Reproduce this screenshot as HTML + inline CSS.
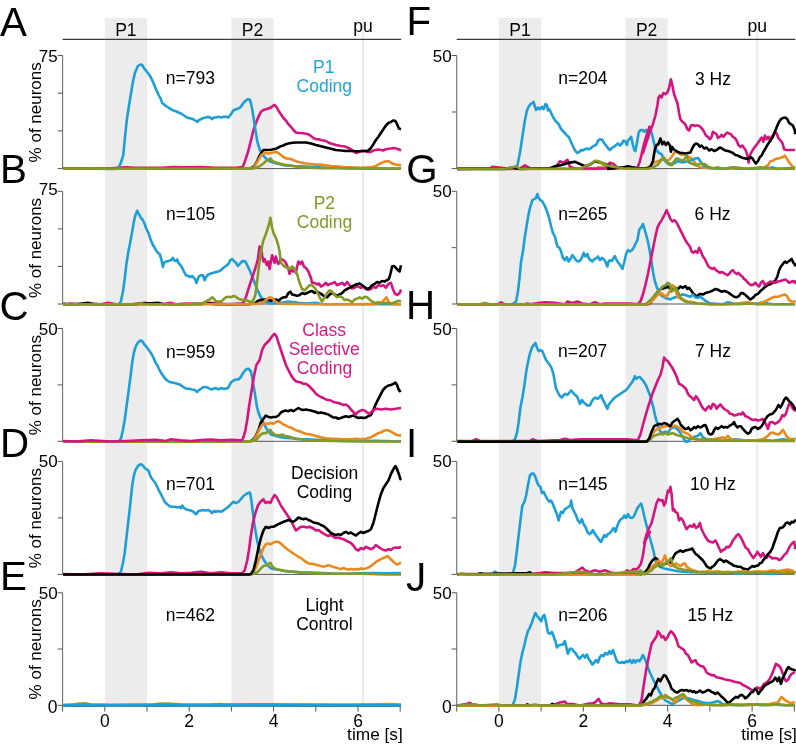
<!DOCTYPE html><html><head><meta charset="utf-8"><style>html,body{margin:0;padding:0;background:#fff;}svg{display:block;will-change:transform}text{font-family:"Liberation Sans",sans-serif;}</style></head><body>
<svg width="796" height="744" viewBox="0 0 796 744">
<rect x="104.8" y="18.2" width="42.2" height="687.1" fill="#ececec"/>
<rect x="231.4" y="18.2" width="42.2" height="687.1" fill="#ececec"/>
<line x1="363.1" y1="18.2" x2="363.1" y2="705.3" stroke="#ececec" stroke-width="2.2"/>
<line x1="62.6" y1="39.3" x2="401.2" y2="39.3" stroke="#3a3a3a" stroke-width="1.3"/>
<text x="125.9" y="35.8" font-size="17.5" text-anchor="middle">P1</text>
<text x="252.5" y="35.8" font-size="17.5" text-anchor="middle">P2</text>
<text x="363.1" y="32.2" font-size="17.5" text-anchor="middle">pu</text>
<rect x="498.9" y="18.2" width="42.2" height="687.1" fill="#ececec"/>
<rect x="625.5" y="18.2" width="42.2" height="687.1" fill="#ececec"/>
<line x1="757.2" y1="18.2" x2="757.2" y2="705.3" stroke="#ececec" stroke-width="2.2"/>
<line x1="456.7" y1="39.3" x2="795.3" y2="39.3" stroke="#3a3a3a" stroke-width="1.3"/>
<text x="520.0" y="35.8" font-size="17.5" text-anchor="middle">P1</text>
<text x="646.6" y="35.8" font-size="17.5" text-anchor="middle">P2</text>
<text x="757.2" y="32.2" font-size="17.5" text-anchor="middle">pu</text>
<line x1="62.6" y1="55.5" x2="62.6" y2="168.6" stroke="#707070" stroke-width="1.1"/>
<line x1="57.6" y1="168.6" x2="62.6" y2="168.6" stroke="#555" stroke-width="1"/>
<line x1="57.6" y1="130.9" x2="62.6" y2="130.9" stroke="#555" stroke-width="1"/>
<line x1="57.6" y1="93.2" x2="62.6" y2="93.2" stroke="#555" stroke-width="1"/>
<line x1="57.6" y1="55.5" x2="62.6" y2="55.5" stroke="#555" stroke-width="1"/>
<text x="57.6" y="61.5" font-size="17" text-anchor="end">75</text>
<line x1="62.6" y1="168.6" x2="400.2" y2="168.6" stroke="#555" stroke-width="1"/>
<text transform="translate(41.3,112.3) rotate(-90)" font-size="17" text-anchor="middle">% of neurons</text>
<line x1="62.6" y1="191.3" x2="62.6" y2="304.0" stroke="#707070" stroke-width="1.1"/>
<line x1="57.6" y1="304.0" x2="62.6" y2="304.0" stroke="#555" stroke-width="1"/>
<line x1="57.6" y1="266.4" x2="62.6" y2="266.4" stroke="#555" stroke-width="1"/>
<line x1="57.6" y1="228.9" x2="62.6" y2="228.9" stroke="#555" stroke-width="1"/>
<line x1="57.6" y1="191.3" x2="62.6" y2="191.3" stroke="#555" stroke-width="1"/>
<text x="57.6" y="195.0" font-size="17" text-anchor="end">75</text>
<line x1="62.6" y1="304.0" x2="400.2" y2="304.0" stroke="#555" stroke-width="1"/>
<text transform="translate(41.3,248.0) rotate(-90)" font-size="17" text-anchor="middle">% of neurons</text>
<line x1="62.6" y1="328.5" x2="62.6" y2="441.3" stroke="#707070" stroke-width="1.1"/>
<line x1="57.6" y1="441.3" x2="62.6" y2="441.3" stroke="#555" stroke-width="1"/>
<line x1="57.6" y1="384.9" x2="62.6" y2="384.9" stroke="#555" stroke-width="1"/>
<line x1="57.6" y1="328.5" x2="62.6" y2="328.5" stroke="#555" stroke-width="1"/>
<text x="57.6" y="334.5" font-size="17" text-anchor="end">50</text>
<line x1="62.6" y1="441.3" x2="400.2" y2="441.3" stroke="#555" stroke-width="1"/>
<text transform="translate(41.3,385.2) rotate(-90)" font-size="17" text-anchor="middle">% of neurons</text>
<line x1="62.6" y1="461.4" x2="62.6" y2="574.4" stroke="#707070" stroke-width="1.1"/>
<line x1="57.6" y1="574.4" x2="62.6" y2="574.4" stroke="#555" stroke-width="1"/>
<line x1="57.6" y1="517.9" x2="62.6" y2="517.9" stroke="#555" stroke-width="1"/>
<line x1="57.6" y1="461.4" x2="62.6" y2="461.4" stroke="#555" stroke-width="1"/>
<text x="57.6" y="467.4" font-size="17" text-anchor="end">50</text>
<line x1="62.6" y1="574.4" x2="400.2" y2="574.4" stroke="#555" stroke-width="1"/>
<text transform="translate(41.3,518.2) rotate(-90)" font-size="17" text-anchor="middle">% of neurons</text>
<line x1="62.6" y1="592.8" x2="62.6" y2="705.3" stroke="#707070" stroke-width="1.1"/>
<line x1="57.6" y1="705.3" x2="62.6" y2="705.3" stroke="#555" stroke-width="1"/>
<line x1="57.6" y1="649.0" x2="62.6" y2="649.0" stroke="#555" stroke-width="1"/>
<line x1="57.6" y1="592.8" x2="62.6" y2="592.8" stroke="#555" stroke-width="1"/>
<text x="57.6" y="598.8" font-size="17" text-anchor="end">50</text>
<line x1="62.6" y1="705.3" x2="400.2" y2="705.3" stroke="#555" stroke-width="1"/>
<text transform="translate(41.3,649.3) rotate(-90)" font-size="17" text-anchor="middle">% of neurons</text>
<line x1="62.6" y1="705.3" x2="62.6" y2="711.5999999999999" stroke="#555" stroke-width="1"/>
<line x1="104.8" y1="705.3" x2="104.8" y2="711.5999999999999" stroke="#555" stroke-width="1"/>
<line x1="147.0" y1="705.3" x2="147.0" y2="711.5999999999999" stroke="#555" stroke-width="1"/>
<line x1="189.2" y1="705.3" x2="189.2" y2="711.5999999999999" stroke="#555" stroke-width="1"/>
<line x1="231.4" y1="705.3" x2="231.4" y2="711.5999999999999" stroke="#555" stroke-width="1"/>
<line x1="273.6" y1="705.3" x2="273.6" y2="711.5999999999999" stroke="#555" stroke-width="1"/>
<line x1="315.8" y1="705.3" x2="315.8" y2="711.5999999999999" stroke="#555" stroke-width="1"/>
<line x1="358.0" y1="705.3" x2="358.0" y2="711.5999999999999" stroke="#555" stroke-width="1"/>
<line x1="400.2" y1="705.3" x2="400.2" y2="711.5999999999999" stroke="#555" stroke-width="1"/>
<text x="104.8" y="727.4" font-size="17.5" text-anchor="middle">0</text>
<text x="189.2" y="727.4" font-size="17.5" text-anchor="middle">2</text>
<text x="273.6" y="727.4" font-size="17.5" text-anchor="middle">4</text>
<text x="358.0" y="727.4" font-size="17.5" text-anchor="middle">6</text>
<text x="57.6" y="712.7" font-size="17.5" text-anchor="end">0</text>
<text x="402.8" y="739.5" font-size="17.3" text-anchor="end">time [s]</text>
<line x1="456.7" y1="55.5" x2="456.7" y2="168.6" stroke="#707070" stroke-width="1.1"/>
<line x1="451.7" y1="168.6" x2="456.7" y2="168.6" stroke="#555" stroke-width="1"/>
<line x1="451.7" y1="112.0" x2="456.7" y2="112.0" stroke="#555" stroke-width="1"/>
<line x1="451.7" y1="55.5" x2="456.7" y2="55.5" stroke="#555" stroke-width="1"/>
<text x="451.7" y="61.5" font-size="17" text-anchor="end">50</text>
<line x1="456.7" y1="168.6" x2="794.3" y2="168.6" stroke="#555" stroke-width="1"/>
<line x1="456.7" y1="191.3" x2="456.7" y2="304.0" stroke="#707070" stroke-width="1.1"/>
<line x1="451.7" y1="304.0" x2="456.7" y2="304.0" stroke="#555" stroke-width="1"/>
<line x1="451.7" y1="247.7" x2="456.7" y2="247.7" stroke="#555" stroke-width="1"/>
<line x1="451.7" y1="191.3" x2="456.7" y2="191.3" stroke="#555" stroke-width="1"/>
<text x="451.7" y="197.3" font-size="17" text-anchor="end">50</text>
<line x1="456.7" y1="304.0" x2="794.3" y2="304.0" stroke="#555" stroke-width="1"/>
<line x1="456.7" y1="328.5" x2="456.7" y2="441.3" stroke="#707070" stroke-width="1.1"/>
<line x1="451.7" y1="441.3" x2="456.7" y2="441.3" stroke="#555" stroke-width="1"/>
<line x1="451.7" y1="384.9" x2="456.7" y2="384.9" stroke="#555" stroke-width="1"/>
<line x1="451.7" y1="328.5" x2="456.7" y2="328.5" stroke="#555" stroke-width="1"/>
<text x="451.7" y="334.5" font-size="17" text-anchor="end">50</text>
<line x1="456.7" y1="441.3" x2="794.3" y2="441.3" stroke="#555" stroke-width="1"/>
<line x1="456.7" y1="461.4" x2="456.7" y2="574.4" stroke="#707070" stroke-width="1.1"/>
<line x1="451.7" y1="574.4" x2="456.7" y2="574.4" stroke="#555" stroke-width="1"/>
<line x1="451.7" y1="517.9" x2="456.7" y2="517.9" stroke="#555" stroke-width="1"/>
<line x1="451.7" y1="461.4" x2="456.7" y2="461.4" stroke="#555" stroke-width="1"/>
<text x="451.7" y="467.4" font-size="17" text-anchor="end">50</text>
<line x1="456.7" y1="574.4" x2="794.3" y2="574.4" stroke="#555" stroke-width="1"/>
<line x1="456.7" y1="592.8" x2="456.7" y2="705.3" stroke="#707070" stroke-width="1.1"/>
<line x1="451.7" y1="705.3" x2="456.7" y2="705.3" stroke="#555" stroke-width="1"/>
<line x1="451.7" y1="649.0" x2="456.7" y2="649.0" stroke="#555" stroke-width="1"/>
<line x1="451.7" y1="592.8" x2="456.7" y2="592.8" stroke="#555" stroke-width="1"/>
<text x="451.7" y="598.8" font-size="17" text-anchor="end">50</text>
<line x1="456.7" y1="705.3" x2="794.3" y2="705.3" stroke="#555" stroke-width="1"/>
<line x1="456.7" y1="705.3" x2="456.7" y2="711.5999999999999" stroke="#555" stroke-width="1"/>
<line x1="498.9" y1="705.3" x2="498.9" y2="711.5999999999999" stroke="#555" stroke-width="1"/>
<line x1="541.1" y1="705.3" x2="541.1" y2="711.5999999999999" stroke="#555" stroke-width="1"/>
<line x1="583.3" y1="705.3" x2="583.3" y2="711.5999999999999" stroke="#555" stroke-width="1"/>
<line x1="625.5" y1="705.3" x2="625.5" y2="711.5999999999999" stroke="#555" stroke-width="1"/>
<line x1="667.7" y1="705.3" x2="667.7" y2="711.5999999999999" stroke="#555" stroke-width="1"/>
<line x1="709.9" y1="705.3" x2="709.9" y2="711.5999999999999" stroke="#555" stroke-width="1"/>
<line x1="752.1" y1="705.3" x2="752.1" y2="711.5999999999999" stroke="#555" stroke-width="1"/>
<line x1="794.3" y1="705.3" x2="794.3" y2="711.5999999999999" stroke="#555" stroke-width="1"/>
<text x="498.9" y="727.4" font-size="17.5" text-anchor="middle">0</text>
<text x="583.3" y="727.4" font-size="17.5" text-anchor="middle">2</text>
<text x="667.7" y="727.4" font-size="17.5" text-anchor="middle">4</text>
<text x="752.1" y="727.4" font-size="17.5" text-anchor="middle">6</text>
<text x="451.7" y="712.7" font-size="17.5" text-anchor="end">0</text>
<text x="796.9" y="739.5" font-size="17.3" text-anchor="end">time [s]</text>
<text x="0" y="36.0" font-size="40.3">A</text>
<text x="0" y="182.7" font-size="40.3">B</text>
<text x="-0.5" y="320.3" font-size="40.3">C</text>
<text x="0" y="456.5" font-size="40.3">D</text>
<text x="0" y="589.9" font-size="40.3">E</text>
<text x="406.6" y="35.2" font-size="40.3">F</text>
<text x="406.3" y="183" font-size="40.3">G</text>
<text x="406" y="319.4" font-size="40.3">H</text>
<text x="406" y="456.5" font-size="40.3">I</text>
<text x="406" y="590.5" font-size="40.3">J</text>
<rect x="413" y="561" width="6.3" height="5.8" fill="#fff"/>
<text x="190.4" y="84.0" font-size="17.5" text-anchor="middle" fill="#000">n=793</text>
<text x="323.7" y="73.4" font-size="17.5" text-anchor="middle" fill="#1fa5db">P1</text>
<text x="324.3" y="91.9" font-size="17.5" text-anchor="middle" fill="#1fa5db">Coding</text>
<text x="190.6" y="220.3" font-size="17.5" text-anchor="middle" fill="#000">n=105</text>
<text x="324.4" y="208.6" font-size="17.5" text-anchor="middle" fill="#839b26">P2</text>
<text x="324.5" y="227.7" font-size="17.5" text-anchor="middle" fill="#839b26">Coding</text>
<text x="190.6" y="357.6" font-size="17.5" text-anchor="middle" fill="#000">n=959</text>
<text x="324.2" y="335.8" font-size="17.5" text-anchor="middle" fill="#d81a84">Class</text>
<text x="324.2" y="355.0" font-size="17.5" text-anchor="middle" fill="#d81a84">Selective</text>
<text x="324.4" y="373.6" font-size="17.5" text-anchor="middle" fill="#d81a84">Coding</text>
<text x="190.5" y="490.3" font-size="17.5" text-anchor="middle" fill="#000">n=701</text>
<text x="324.6" y="479.0" font-size="17.5" text-anchor="middle" fill="#000">Decision</text>
<text x="324.4" y="497.9" font-size="17.5" text-anchor="middle" fill="#000">Coding</text>
<text x="190.4" y="620.5" font-size="17.5" text-anchor="middle" fill="#000">n=462</text>
<text x="324.6" y="611.0" font-size="17.5" text-anchor="middle" fill="#000">Light</text>
<text x="324.4" y="630.0" font-size="17.5" text-anchor="middle" fill="#000">Control</text>
<text x="582.9" y="83.8" font-size="17.5" text-anchor="middle" fill="#000">n=204</text>
<text x="712.9" y="84.5" font-size="17.5" text-anchor="middle" fill="#000">3 Hz</text>
<text x="582.8" y="220.3" font-size="17.5" text-anchor="middle" fill="#000">n=265</text>
<text x="712.6" y="220.3" font-size="17.5" text-anchor="middle" fill="#000">6 Hz</text>
<text x="582.6" y="357.3" font-size="17.5" text-anchor="middle" fill="#000">n=207</text>
<text x="713.0" y="357.3" font-size="17.5" text-anchor="middle" fill="#000">7 Hz</text>
<text x="582.8" y="490.3" font-size="17.5" text-anchor="middle" fill="#000">n=145</text>
<text x="712.9" y="489.6" font-size="17.5" text-anchor="middle" fill="#000">10 Hz</text>
<text x="582.8" y="621.1" font-size="17.5" text-anchor="middle" fill="#000">n=206</text>
<text x="710.3" y="621.3" font-size="17.5" text-anchor="middle" fill="#000">15 Hz</text>
<polyline points="63.2,168.5 110.9,168.2 125.9,167.4 135.9,167.7 160.9,167.7 173.4,167.1 185.9,167.4 200.9,167.1 215.9,167.7 235.9,167.7 240.9,167.4 242.2,167.4 243.4,165.4 245.9,158.4 248.4,150.5 250.9,140.5 253.4,130.5 255.9,123.0 258.4,116.8 260.9,111.8 263.4,110.0 265.9,109.2 268.4,108.5 270.9,107.5 273.4,105.5 274.6,105.0 276.4,106.8 278.4,110.5 280.9,114.2 283.4,118.0 285.9,120.5 288.4,124.2 290.9,126.8 293.4,130.0 295.9,132.5 298.4,133.0 300.9,133.0 304.6,133.5 308.4,134.2 310.9,136.0 313.4,138.0 315.9,139.2 318.4,139.2 320.9,140.0 323.4,140.5 325.9,141.0 328.4,142.5 330.9,143.5 333.4,144.2 335.9,145.0 338.4,145.5 340.9,146.0 343.4,146.2 345.9,146.8 348.4,148.0 350.9,149.2 353.4,151.0 355.9,153.0 358.4,152.2 360.9,151.0 363.4,150.5 365.9,151.2 368.4,152.2 370.9,151.8 373.4,150.5 375.9,150.0 378.4,149.5 380.9,150.0 383.4,150.5 385.9,149.2 388.4,148.8 390.9,148.5 393.4,148.0 395.9,148.5 398.4,149.2 401.0,150.5" fill="none" stroke="#d5157f" stroke-width="2.6" stroke-linejoin="round" stroke-linecap="butt"/>
<polyline points="63.2,168.5 113.9,168.9 117.9,168.5 120.4,164.0 121.9,159.5 123.3,154.8 124.9,138.0 126.9,119.2 129.9,100.0 132.9,82.0 134.9,73.0 137.9,66.0 140.4,64.5 142.2,65.0 143.9,68.0 145.9,70.5 147.9,73.0 149.7,75.5 151.4,78.5 153.4,83.0 155.4,88.0 157.2,91.8 158.9,95.5 160.9,99.2 162.2,103.0 163.9,104.2 165.9,106.0 168.4,107.5 170.9,109.2 173.4,110.5 175.9,111.2 178.4,112.5 180.9,113.5 183.4,115.0 185.9,116.8 188.4,118.0 190.9,118.5 193.4,119.2 195.9,121.0 197.2,121.8 198.4,120.5 200.9,119.2 203.4,118.0 205.9,117.5 208.4,116.8 210.9,118.0 212.2,119.2 213.9,117.5 215.9,117.5 218.4,116.8 220.9,117.5 223.4,116.8 225.9,116.8 228.4,117.5 230.9,114.2 233.4,110.5 235.9,109.2 238.4,108.5 240.9,106.8 243.4,103.0 245.9,100.5 247.9,99.2 249.7,99.5 250.9,103.0 252.2,109.2 253.4,116.8 254.7,125.5 255.9,133.0 257.1,140.5 258.4,145.5 259.6,149.2 260.9,151.8 263.4,155.6 265.9,158.4 268.4,160.4 270.9,161.8 275.9,163.2 280.9,164.6 285.9,165.4 293.4,166.0 300.9,166.3 310.9,166.8 320.9,167.4 335.9,167.7 348.4,168.2 360.9,168.5 373.4,168.2 385.9,168.5 401.0,168.5" fill="none" stroke="#1d9fd6" stroke-width="2.6" stroke-linejoin="round" stroke-linecap="butt"/>
<polyline points="63.2,168.8 245.9,168.8 248.4,168.8 252.2,167.7 254.7,165.4 257.1,161.2 259.6,155.6 262.1,151.8 263.4,150.0 265.9,150.0 270.9,149.8 275.9,148.8 278.4,147.5 280.9,146.2 283.4,145.5 285.9,144.2 288.4,143.5 290.9,143.0 295.9,142.5 300.9,142.5 305.9,142.5 310.9,143.5 315.9,145.0 320.9,146.2 325.9,147.5 330.9,148.8 335.9,150.0 340.9,150.5 345.9,151.0 350.9,151.0 355.9,151.2 360.9,151.2 365.9,151.0 368.4,150.5 370.9,148.0 373.4,144.2 375.9,140.0 378.4,136.8 380.9,133.0 383.4,129.2 385.9,125.5 388.4,123.0 390.9,121.8 393.4,120.5 395.4,121.0 397.1,124.2 398.9,128.5 401.0,129.2" fill="none" stroke="#000000" stroke-width="2.6" stroke-linejoin="round" stroke-linecap="butt"/>
<polyline points="63.2,168.8 245.9,168.8 248.4,168.8 253.4,167.9 255.9,164.0 258.4,159.8 260.9,155.6 263.4,153.5 265.9,153.0 268.4,153.5 270.9,153.0 273.4,152.5 275.9,151.8 278.4,153.0 280.9,155.0 283.4,157.0 285.9,158.4 290.9,159.0 295.9,161.2 300.9,162.6 305.9,163.5 310.9,164.0 315.9,164.6 320.9,164.6 325.9,165.4 330.9,166.0 335.9,166.3 340.9,166.8 345.9,167.4 350.9,167.4 360.9,167.7 370.9,167.4 375.9,166.0 380.9,163.2 383.4,162.1 385.9,161.2 388.4,161.2 390.9,162.6 393.4,164.0 395.9,164.6 398.4,164.9 401.0,165.4" fill="none" stroke="#e98a1f" stroke-width="2.6" stroke-linejoin="round" stroke-linecap="butt"/>
<polyline points="63.2,168.8 245.9,168.8 248.4,168.8 255.9,167.9 258.4,166.8 260.9,165.4 263.4,163.5 265.9,161.2 268.4,159.8 270.4,158.4 272.1,160.7 274.6,162.1 278.4,163.2 283.4,164.6 288.4,165.4 293.4,166.0 300.9,167.4 310.9,167.7 323.4,168.2 335.9,168.2 360.9,168.5 385.9,168.5 401.0,168.5" fill="none" stroke="#839b26" stroke-width="2.6" stroke-linejoin="round" stroke-linecap="butt"/>
<polyline points="63.2,304.3 118.4,304.3 120.9,301.5 122.9,291.7 124.7,279.0 126.4,264.0 128.4,251.5 130.4,241.5 132.2,231.5 133.9,221.5 135.4,215.2 137.2,210.8 138.9,214.0 140.9,217.8 142.9,220.2 144.7,224.0 146.4,229.0 148.4,232.8 150.4,239.0 152.2,243.5 153.9,246.5 155.9,250.2 157.9,252.8 159.7,254.0 160.9,257.8 162.2,262.8 162.9,267.0 163.9,262.8 165.9,261.5 168.4,261.0 170.9,260.2 172.9,257.8 173.9,260.2 175.4,261.0 177.2,259.5 178.4,262.8 180.4,265.2 182.2,267.8 183.9,271.5 185.9,275.2 188.4,276.0 190.4,277.0 192.2,276.0 193.9,277.8 195.4,279.5 196.4,282.8 197.9,279.0 198.9,276.5 200.9,275.2 202.9,275.2 204.7,280.2 205.9,277.0 208.4,274.5 210.9,273.5 213.4,272.8 215.9,272.0 218.4,271.5 220.9,270.2 223.4,267.8 225.9,266.0 228.4,264.0 230.4,260.2 232.2,259.0 233.9,261.0 235.9,262.8 237.9,266.0 239.7,264.0 241.4,262.0 243.4,261.0 245.4,261.5 247.2,265.2 249.7,270.2 252.2,276.5 254.7,282.8 257.1,289.0 259.6,294.5 262.1,298.7 264.6,301.5 268.4,302.9 273.4,303.5 278.4,302.9 283.4,302.3 288.4,301.5 293.4,302.1 298.4,302.9 305.9,303.5 315.9,302.9 323.4,304.3 335.9,304.3 360.9,304.3 385.9,304.3 401.0,304.3" fill="none" stroke="#1d9fd6" stroke-width="2.6" stroke-linejoin="round" stroke-linecap="butt"/>
<polyline points="63.2,304.3 70.9,303.5 80.9,304.3 90.9,303.5 100.9,304.3 108.4,302.9 115.9,304.3 130.9,304.3 145.9,302.9 150.9,304.3 165.9,303.5 170.9,302.9 175.9,304.3 185.9,303.5 200.9,304.3 210.9,302.9 220.9,303.5 225.9,304.3 235.9,304.0 240.9,303.5 243.4,302.9 245.9,297.3 248.4,289.0 250.9,281.5 253.4,274.0 255.9,266.5 257.9,259.0 259.6,246.5 260.9,247.8 262.1,255.2 263.4,261.5 264.6,259.0 265.9,262.8 267.1,265.2 268.4,261.5 269.6,269.0 270.9,261.5 272.1,255.2 273.4,259.0 274.6,262.8 275.9,256.5 277.1,261.5 278.4,264.0 280.9,259.0 283.4,260.2 285.9,262.8 288.4,269.0 289.6,274.0 290.9,269.0 292.9,271.5 294.6,269.0 295.9,272.8 297.1,266.5 298.4,261.5 300.4,264.0 302.1,261.5 303.9,266.5 305.9,267.8 308.4,271.5 310.9,277.8 312.1,282.8 314.6,282.8 317.1,284.5 318.9,283.5 320.9,286.5 323.4,285.2 325.9,282.8 327.9,285.2 329.6,284.0 332.1,283.5 334.6,282.0 337.1,285.2 339.6,284.0 342.1,282.8 344.6,285.2 347.1,282.0 349.6,285.2 352.1,288.5 354.6,287.8 357.1,286.0 360.9,287.8 363.4,286.5 365.9,289.0 368.4,289.8 370.9,289.0 373.4,286.5 375.9,287.8 378.4,285.2 380.9,286.0 383.4,285.2 385.9,287.8 388.4,284.0 390.9,282.8 392.9,289.0 394.6,293.1 397.1,295.0 399.6,293.1 401.0,289.5" fill="none" stroke="#d5157f" stroke-width="2.6" stroke-linejoin="round" stroke-linecap="butt"/>
<polyline points="63.2,303.5 65.9,304.3 75.9,304.3 88.4,302.9 93.4,304.3 110.9,304.3 135.9,304.3 158.4,302.9 163.4,304.3 185.9,304.3 208.4,303.5 215.9,304.3 235.9,304.0 245.9,304.3 248.4,304.3 254.7,303.5 257.1,301.5 259.6,300.1 262.1,300.1 264.6,299.5 268.4,300.1 270.9,300.7 273.4,300.1 275.9,299.5 278.4,300.7 280.9,298.7 283.4,297.3 285.9,297.3 288.4,293.1 290.4,291.7 292.1,294.5 294.6,295.0 297.1,295.9 299.6,295.0 302.1,293.1 304.6,293.9 307.1,293.1 309.6,291.7 312.1,291.1 314.6,293.1 317.1,291.7 319.6,293.1 322.1,294.5 324.6,296.7 327.1,297.3 329.6,294.5 332.1,293.1 334.6,294.5 337.1,295.9 339.6,294.5 342.1,293.1 344.6,290.3 347.1,289.0 349.6,287.8 352.1,286.5 354.6,285.2 357.1,284.0 359.6,283.5 362.1,285.2 364.6,287.0 367.1,289.0 369.6,287.8 372.1,285.2 374.6,284.0 377.1,282.0 379.6,282.8 382.1,281.0 384.6,281.5 387.1,280.2 388.9,279.0 390.4,274.0 392.1,266.5 393.9,266.0 395.9,267.8 397.9,270.2 399.6,271.5 401.0,265.2" fill="none" stroke="#000000" stroke-width="2.6" stroke-linejoin="round" stroke-linecap="butt"/>
<polyline points="63.2,304.3 210.9,304.3 245.9,304.3 248.4,304.3 260.9,303.5 265.9,300.1 269.6,297.3 272.1,297.9 274.6,300.7 278.4,303.5 285.9,303.7 310.9,304.3 335.9,304.3 360.9,304.3 373.4,303.7 380.9,302.9 384.6,299.5 386.4,297.3 388.4,301.5 390.9,303.5 395.9,304.3 401.0,304.3" fill="none" stroke="#e98a1f" stroke-width="2.6" stroke-linejoin="round" stroke-linecap="butt"/>
<polyline points="63.2,304.3 135.9,304.3 140.9,302.9 143.4,304.3 200.9,304.3 205.9,301.5 209.7,299.5 212.2,297.3 213.9,298.7 215.9,301.5 218.4,301.5 220.9,301.5 223.4,299.5 225.9,297.3 228.4,296.7 230.9,297.3 233.4,295.9 235.9,296.7 238.4,298.7 240.9,299.5 243.4,300.1 245.9,300.1 250.9,302.3 253.4,300.1 255.4,294.5 257.1,281.5 258.9,266.5 260.9,251.5 263.4,240.2 265.9,234.0 268.4,226.5 270.4,217.8 272.1,227.8 273.9,234.0 275.9,237.8 277.9,244.0 279.6,251.5 280.9,262.8 282.1,264.0 284.6,266.5 287.1,267.8 289.6,269.0 292.1,266.5 294.6,269.0 297.1,274.0 299.6,282.8 302.1,289.0 304.6,290.3 307.1,287.8 309.6,285.2 312.1,285.2 314.6,287.8 317.1,291.7 319.6,297.3 322.1,301.5 324.6,297.3 327.1,293.1 329.6,290.3 332.1,291.7 334.6,295.0 337.1,297.3 339.6,296.4 342.1,297.3 344.6,300.1 347.1,299.5 349.6,300.7 352.1,302.3 354.6,299.5 357.1,298.7 359.6,297.3 362.1,298.7 364.6,296.7 367.1,297.3 369.6,299.5 372.1,301.5 374.6,302.9 378.4,302.3 382.1,303.5 385.9,302.9 390.9,303.5 395.9,302.1 398.4,300.7 401.0,301.5" fill="none" stroke="#839b26" stroke-width="2.6" stroke-linejoin="round" stroke-linecap="butt"/>
<polyline points="63.2,441.5 118.4,441.5 120.9,438.7 122.9,430.3 124.7,420.0 126.4,407.5 128.4,392.5 130.4,377.5 132.2,362.5 133.9,352.5 135.9,346.2 137.9,342.5 140.4,340.5 142.2,341.2 143.9,343.8 145.9,346.2 147.9,348.8 149.7,351.2 151.4,353.8 153.4,357.5 155.4,362.5 157.2,365.0 158.9,368.8 160.9,372.5 162.9,375.5 164.7,378.0 167.2,380.5 169.7,382.0 172.2,382.5 174.7,383.0 177.2,383.8 179.7,384.5 182.2,386.2 184.7,388.0 187.2,388.8 189.7,388.8 192.2,389.5 194.7,390.0 197.2,392.0 198.4,390.5 200.9,388.8 203.4,387.0 205.9,387.0 208.4,388.0 210.9,389.5 213.4,388.8 215.9,388.0 218.4,389.5 220.9,388.0 223.4,388.8 225.9,388.8 228.4,387.5 230.9,382.5 233.4,380.5 235.9,379.5 238.4,379.5 240.9,377.0 243.4,372.5 245.9,369.5 248.4,368.8 250.9,371.2 252.2,377.5 253.4,385.0 254.7,392.5 255.9,400.0 257.1,407.5 258.4,412.5 260.9,418.8 263.4,422.5 265.9,427.5 268.4,431.7 270.9,434.5 275.9,435.9 280.9,437.3 285.9,437.9 290.9,438.2 295.9,438.7 300.9,439.3 305.9,439.3 310.9,439.6 323.4,440.1 335.9,440.7 348.4,441.0 360.9,441.0 373.4,440.7 385.9,441.0 401.0,441.5" fill="none" stroke="#1d9fd6" stroke-width="2.6" stroke-linejoin="round" stroke-linecap="butt"/>
<polyline points="63.2,441.5 235.9,441.5 248.4,441.5 250.9,441.0 253.4,439.3 255.9,435.9 258.4,430.3 260.9,422.5 263.4,418.8 265.9,415.5 268.4,417.0 270.9,417.5 273.4,417.0 275.9,417.0 278.4,415.5 280.9,412.5 283.4,411.2 285.9,410.5 288.4,411.2 290.9,410.0 293.4,411.2 295.9,409.5 298.4,408.0 300.9,409.5 303.4,410.0 305.9,409.5 308.4,410.0 310.9,410.5 313.4,411.2 315.9,412.0 318.4,413.0 320.9,412.5 323.4,413.0 325.9,413.8 328.4,414.5 330.9,416.2 333.4,417.5 335.9,417.5 338.4,418.8 340.9,418.0 343.4,417.0 345.9,416.2 348.4,417.0 350.9,416.2 353.4,415.5 355.9,417.0 358.4,418.0 360.9,417.5 363.4,418.0 365.9,417.5 368.4,416.2 370.9,415.0 373.4,410.0 375.9,403.8 378.4,398.8 380.9,393.8 383.4,389.5 385.9,387.0 388.4,385.5 390.9,385.0 393.4,383.8 395.4,382.5 397.1,385.0 398.4,388.8 399.6,391.2 401.0,390.5" fill="none" stroke="#000000" stroke-width="2.6" stroke-linejoin="round" stroke-linecap="butt"/>
<polyline points="63.2,441.6 235.9,441.6 248.4,441.6 252.2,441.0 254.7,438.7 257.1,434.5 259.6,428.9 262.1,425.0 264.6,423.8 268.4,423.8 270.9,423.0 273.4,423.8 275.9,422.0 278.4,421.2 280.9,422.5 283.4,424.5 285.9,425.5 288.4,427.0 290.9,427.5 293.4,428.9 295.9,430.3 298.4,430.9 300.9,431.7 303.4,433.1 305.9,433.7 310.9,434.5 315.9,435.9 320.9,437.3 325.9,438.2 330.9,438.7 335.9,438.7 340.9,439.3 345.9,439.3 350.9,439.3 355.9,438.7 360.9,439.3 365.9,438.7 370.9,437.3 373.4,435.9 375.9,434.5 378.4,433.1 380.9,432.6 383.4,430.9 385.9,430.3 388.4,430.3 390.9,431.7 393.4,433.1 395.9,434.5 398.4,435.4 401.0,435.4" fill="none" stroke="#e98a1f" stroke-width="2.6" stroke-linejoin="round" stroke-linecap="butt"/>
<polyline points="63.2,441.6 235.9,441.6 248.4,441.6 255.9,440.1 258.4,437.3 260.9,434.5 263.4,433.1 265.9,433.1 268.4,431.7 270.4,429.8 272.1,432.6 274.6,434.5 277.1,435.4 279.6,435.4 282.1,434.5 284.6,435.9 288.4,436.5 290.9,437.3 295.9,438.7 300.9,439.3 305.9,440.1 315.9,440.7 335.9,441.0 360.9,441.5 401.0,441.5" fill="none" stroke="#839b26" stroke-width="2.6" stroke-linejoin="round" stroke-linecap="butt"/>
<polyline points="63.2,441.0 75.9,441.5 90.9,440.4 110.9,441.5 125.9,441.0 140.9,440.4 155.9,439.9 165.9,441.0 170.9,439.3 180.9,440.4 190.9,441.0 200.9,440.1 210.9,439.6 220.9,440.4 230.9,439.9 240.9,440.4 242.2,440.1 243.4,437.3 245.4,430.3 247.2,420.0 248.9,407.5 250.9,395.0 252.9,382.5 254.7,372.5 256.4,365.0 259.6,360.0 262.1,350.0 264.6,345.0 267.1,342.5 269.6,340.0 272.1,336.2 274.6,333.8 276.4,336.2 278.4,342.5 280.9,350.0 283.4,357.5 285.9,365.0 288.4,370.0 290.9,375.0 293.4,378.8 295.9,381.2 298.4,382.0 300.9,382.5 303.4,383.8 305.9,383.8 308.4,385.5 310.9,388.0 313.4,390.5 315.9,393.8 318.4,395.5 320.9,397.0 323.4,398.0 325.9,399.5 328.4,400.0 330.9,400.5 333.4,402.0 335.9,402.5 338.4,403.0 340.9,403.8 343.4,405.0 345.9,404.5 348.4,406.2 350.9,409.5 353.4,412.0 355.4,415.0 357.1,412.5 359.6,411.2 362.1,410.0 364.6,410.5 367.1,412.5 369.6,413.8 372.1,411.2 374.6,409.5 377.1,408.8 380.9,409.5 385.9,408.8 390.9,409.5 395.9,408.8 401.0,408.0" fill="none" stroke="#d5157f" stroke-width="2.6" stroke-linejoin="round" stroke-linecap="butt"/>
<polyline points="63.2,574.5 118.4,574.5 120.9,571.7 122.9,563.3 124.7,553.0 126.4,538.0 128.4,520.5 130.4,503.0 132.2,485.5 133.9,475.5 135.9,469.2 138.4,465.5 140.9,464.2 142.9,465.5 144.7,468.0 146.4,469.2 148.4,470.5 149.7,474.2 151.4,478.0 153.4,480.5 155.4,483.0 157.2,486.8 158.9,490.5 160.9,494.2 162.9,498.0 164.7,501.8 167.2,504.2 169.7,506.2 172.2,506.8 174.7,506.8 177.2,507.5 179.7,506.8 180.9,508.0 182.2,505.5 183.9,508.0 185.9,509.2 188.4,510.0 190.9,510.5 193.4,511.8 195.9,514.2 197.2,513.0 198.4,511.0 200.9,510.5 203.4,510.0 205.9,510.5 208.4,510.0 210.9,511.8 212.2,513.0 213.9,511.0 215.9,511.8 218.4,511.0 220.9,511.8 223.4,510.5 225.9,508.5 228.4,506.8 230.9,504.2 233.4,501.8 235.9,503.0 238.4,501.8 240.9,499.2 243.4,496.0 245.9,494.2 248.4,493.0 249.7,492.5 250.4,494.2 251.7,503.0 252.9,513.0 254.2,523.0 255.4,530.5 257.1,540.5 258.9,548.0 260.9,554.2 263.4,559.2 265.9,563.3 268.4,566.1 270.9,568.4 275.9,569.5 280.9,570.3 285.9,571.2 293.4,571.7 300.9,572.3 310.9,572.6 323.4,573.1 335.9,573.7 348.4,573.7 360.9,573.4 373.4,573.1 385.9,573.4 401.0,573.1" fill="none" stroke="#1d9fd6" stroke-width="2.6" stroke-linejoin="round" stroke-linecap="butt"/>
<polyline points="63.2,574.7 235.9,574.7 248.4,574.7 250.9,574.5 253.4,572.3 255.9,567.5 258.4,560.5 260.9,554.2 263.4,548.0 265.9,544.2 268.4,543.5 270.9,544.2 273.4,542.5 275.9,541.8 278.4,541.8 280.9,543.5 283.4,546.0 285.9,548.0 288.4,550.0 290.9,551.8 293.4,553.5 295.9,555.0 298.4,556.8 300.9,558.0 303.4,560.0 305.9,561.9 308.4,563.3 310.9,563.9 313.4,563.9 315.9,564.7 318.4,565.3 320.9,566.1 323.4,566.7 325.9,566.1 328.4,565.3 330.9,566.1 333.4,567.0 335.9,567.5 338.4,568.4 340.9,568.9 343.4,568.1 345.9,568.9 348.4,569.5 350.9,568.9 353.4,569.5 355.9,568.9 358.4,569.5 360.9,568.4 363.4,568.9 365.9,568.4 368.4,567.5 370.9,566.1 373.4,563.9 375.9,561.9 378.4,560.5 380.9,559.2 383.4,558.0 385.9,556.8 387.9,556.2 389.6,558.0 392.1,560.5 394.6,562.8 397.1,564.7 399.6,563.3 401.0,562.8" fill="none" stroke="#e98a1f" stroke-width="2.6" stroke-linejoin="round" stroke-linecap="butt"/>
<polyline points="63.2,574.7 235.9,574.7 248.4,574.7 255.9,573.1 258.4,571.2 260.9,568.4 263.4,566.1 265.9,565.6 268.4,563.9 270.4,562.8 272.1,566.1 274.6,568.4 278.4,569.5 283.4,570.6 288.4,571.2 293.4,571.7 300.9,572.6 310.9,573.1 335.9,573.7 360.9,573.7 385.9,574.5 401.0,574.5" fill="none" stroke="#839b26" stroke-width="2.6" stroke-linejoin="round" stroke-linecap="butt"/>
<polyline points="63.2,574.0 80.9,574.5 100.9,573.4 120.9,574.0 135.9,574.5 148.4,572.8 160.9,573.4 170.9,572.3 180.9,573.4 190.9,572.8 200.9,571.7 210.9,573.4 220.9,572.3 230.9,573.4 240.9,573.4 242.2,573.1 244.7,570.3 247.2,560.5 248.9,550.5 250.9,535.5 252.9,523.0 255.4,513.0 257.9,505.5 260.4,501.8 263.4,499.2 265.4,503.0 267.9,501.8 270.4,503.0 272.1,499.2 274.6,495.0 276.4,496.8 278.4,500.5 280.9,505.5 283.4,509.2 285.9,513.0 288.4,516.8 290.9,520.5 293.4,525.5 295.9,530.5 298.4,528.5 300.9,526.8 303.9,526.8 307.1,527.5 309.6,526.8 313.4,528.5 315.9,530.5 318.4,530.0 320.9,531.8 323.4,533.5 325.9,535.0 328.4,536.0 330.9,535.0 333.4,536.8 335.9,538.0 338.4,537.5 340.9,538.5 343.4,539.2 345.9,540.5 348.4,541.8 350.9,543.0 353.4,545.5 355.9,549.2 358.4,550.5 360.9,548.0 363.4,549.2 365.9,546.8 368.4,548.0 370.9,549.2 373.4,548.0 375.9,545.0 378.4,546.8 380.9,548.5 383.4,550.0 385.9,550.5 388.4,549.2 390.9,550.0 393.4,548.0 395.9,547.5 398.4,548.0 401.0,546.8" fill="none" stroke="#d5157f" stroke-width="2.6" stroke-linejoin="round" stroke-linecap="butt"/>
<polyline points="63.2,574.5 235.9,574.5 248.4,574.5 250.9,574.0 253.4,570.3 255.9,560.5 258.4,548.0 260.9,538.0 263.4,530.5 265.9,526.8 268.4,528.0 270.9,526.8 273.4,526.8 275.9,525.5 278.4,524.2 280.9,523.0 283.4,521.8 285.9,521.0 288.4,520.0 290.9,521.0 293.4,521.8 295.9,520.0 298.4,517.5 300.9,518.5 303.4,519.2 305.9,518.5 308.4,520.0 310.9,521.0 313.4,522.5 315.9,523.0 318.4,523.5 320.9,525.0 323.4,526.0 325.9,528.0 328.4,530.5 330.9,533.0 333.4,534.2 335.9,535.0 338.4,534.2 340.9,535.0 343.4,533.0 345.9,531.8 348.4,533.5 350.9,532.5 353.4,534.2 355.9,535.5 358.4,533.5 360.9,531.8 363.4,533.0 365.9,531.8 368.4,531.0 370.9,529.2 373.4,523.0 375.9,513.0 378.4,503.0 380.9,494.2 383.4,488.0 385.9,484.2 388.4,480.5 390.9,474.2 393.4,469.2 395.4,466.0 397.1,469.2 398.9,474.2 400.4,479.2 401.0,478.5" fill="none" stroke="#000000" stroke-width="2.6" stroke-linejoin="round" stroke-linecap="butt"/>
<polyline points="63.5,705.0 200.9,704.8 280.9,704.5 300.9,705.0 401.0,705.0" fill="none" stroke="#d5157f" stroke-width="2.6" stroke-linejoin="round" stroke-linecap="butt"/>
<polyline points="63.5,705.4 250.9,705.2 300.9,705.5 401.0,705.4" fill="none" stroke="#000000" stroke-width="2.6" stroke-linejoin="round" stroke-linecap="butt"/>
<polyline points="63.2,705.2 73.4,704.8 78.4,704.0 85.9,703.8 90.9,704.8 110.9,705.2 153.4,704.8 160.9,704.0 170.9,703.8 178.4,704.0 183.4,705.0 210.9,705.0 218.4,704.2 235.9,705.0 259.9,705.0 260.9,705.0 300.9,704.4 330.9,704.8 350.9,704.9 370.9,704.2 390.9,704.0 401.0,704.8" fill="none" stroke="#e98a1f" stroke-width="2.6" stroke-linejoin="round" stroke-linecap="butt"/>
<polyline points="63.2,705.2 73.4,704.5 78.4,703.8 85.9,703.5 90.9,704.5 110.9,705.2 153.4,704.5 158.4,703.8 165.9,703.8 175.9,704.5 183.4,705.0 210.9,704.8 220.9,704.0 225.9,704.8 259.9,705.0 260.9,705.0 401.0,705.0" fill="none" stroke="#839b26" stroke-width="2.6" stroke-linejoin="round" stroke-linecap="butt"/>
<polyline points="63.5,705.4 401.0,705.4" fill="none" stroke="#1d9fd6" stroke-width="2.6" stroke-linejoin="round" stroke-linecap="butt"/>
<polyline points="457.4,168.9 529.9,168.9 594.9,168.9 604.9,168.2 614.9,168.9 597.9,167.4 622.9,168.5 645.4,168.2 649.1,166.8 651.6,165.4 654.1,162.6 657.9,161.2 661.6,159.8 664.1,158.4 666.6,161.2 669.1,159.8 671.6,157.0 674.1,153.0 676.6,151.8 679.1,153.5 681.6,155.0 684.1,154.2 686.6,155.6 689.1,157.0 691.6,158.4 694.1,161.2 696.6,165.4 700.4,167.4 710.4,168.2 722.9,168.5 747.9,168.8 762.9,168.2 767.9,165.4 770.4,161.2 772.9,160.7 775.4,159.0 777.9,158.4 780.4,157.9 782.9,157.0 784.9,155.6 786.6,158.4 788.4,161.2 790.4,164.0 792.9,166.8 795.1,167.4" fill="none" stroke="#e98a1f" stroke-width="2.6" stroke-linejoin="round" stroke-linecap="butt"/>
<polyline points="457.4,168.5 514.9,168.5 517.4,165.4 519.4,155.6 521.1,145.5 522.9,133.0 524.9,120.5 526.9,110.5 528.6,106.8 530.4,104.2 532.4,103.0 533.6,101.8 534.9,106.8 536.1,110.0 537.9,107.5 539.9,109.2 541.9,106.8 543.6,109.2 545.4,104.2 546.9,105.0 547.9,110.5 549.4,109.2 551.1,113.0 552.9,116.8 554.4,119.2 556.1,121.8 557.9,123.0 559.4,125.5 561.1,129.2 562.9,131.0 564.9,133.0 566.9,135.5 568.6,136.8 570.4,140.5 572.4,145.0 574.4,149.2 576.1,151.8 577.4,153.0 579.4,151.8 581.1,150.0 582.9,150.5 584.9,149.2 586.9,148.5 588.6,149.2 590.4,148.5 592.4,146.8 594.4,145.5 596.1,145.0 597.9,141.0 599.9,139.2 602.4,140.0 604.4,143.5 606.1,145.5 607.9,148.0 609.9,150.0 611.9,148.0 613.9,146.8 616.1,145.0 617.9,143.5 619.9,145.5 621.9,143.5 623.6,140.5 625.4,141.8 626.9,145.0 627.9,140.5 629.4,139.2 631.1,136.8 632.9,145.0 634.4,150.0 635.4,151.0 636.9,143.0 638.6,133.0 640.4,130.0 642.4,130.0 644.4,131.8 646.1,130.0 647.9,132.5 649.1,130.5 650.4,129.2 651.6,133.0 652.9,138.0 654.9,146.8 656.6,150.5 659.1,153.0 661.6,154.2 664.1,159.8 666.6,162.6 670.4,163.5 672.9,164.0 677.9,161.2 682.9,162.6 687.9,161.2 692.9,159.8 695.4,158.4 697.9,157.9 700.4,161.2 702.9,165.4 707.9,167.4 712.9,168.2 722.9,168.8 732.9,167.4 737.9,168.8 747.9,168.8 767.9,168.2 772.9,167.4 777.9,168.9 787.9,168.2 795.1,168.2" fill="none" stroke="#1d9fd6" stroke-width="2.6" stroke-linejoin="round" stroke-linecap="butt"/>
<polyline points="457.4,168.9 489.9,168.5 492.4,166.8 497.4,167.4 504.9,168.2 519.9,168.5 524.9,165.4 529.9,168.2 554.9,168.5 559.9,161.2 563.6,162.6 567.4,159.8 569.9,166.8 574.9,168.5 604.9,168.5 609.9,162.6 613.6,164.0 617.4,167.4 629.9,168.2 637.4,168.2 639.9,161.2 641.9,153.0 643.6,145.5 645.4,139.2 647.4,133.0 649.4,126.8 642.9,153.0 645.4,145.5 647.9,138.0 650.4,130.5 652.9,124.2 655.4,115.5 657.4,105.5 658.4,98.0 659.9,95.5 661.6,97.5 663.4,93.0 665.4,94.2 667.4,92.5 669.1,88.0 670.9,79.2 672.4,85.5 674.1,94.2 675.9,99.2 677.4,103.0 679.1,113.0 680.4,119.2 682.4,121.8 684.1,123.0 685.9,125.5 687.4,129.2 689.1,130.5 690.9,125.5 692.9,125.0 694.9,126.0 696.6,125.5 698.4,125.5 700.4,126.8 702.4,129.2 704.1,131.8 705.9,135.5 707.9,136.8 709.9,139.2 711.6,136.8 712.9,131.8 714.9,133.0 716.6,134.2 717.9,138.0 719.9,136.8 721.6,135.0 723.4,136.8 725.4,134.2 727.4,132.5 729.1,133.5 730.9,134.2 732.9,136.8 734.9,138.0 736.6,140.5 738.4,145.0 740.4,146.8 742.4,145.5 744.1,148.0 745.9,150.5 747.4,155.6 748.6,162.6 750.4,154.2 752.4,150.5 754.1,148.0 755.9,145.5 757.9,143.0 759.9,140.0 761.6,137.5 763.4,141.8 764.9,135.5 766.6,139.2 768.4,136.8 770.4,141.0 771.6,136.8 772.9,135.5 774.9,131.8 776.6,133.5 778.4,138.0 780.4,140.5 782.4,143.0 784.1,149.2 786.6,150.0 790.4,150.0 795.1,150.0" fill="none" stroke="#d5157f" stroke-width="2.6" stroke-linejoin="round" stroke-linecap="butt"/>
<polyline points="457.4,168.9 504.9,168.9 512.4,167.4 519.9,168.9 549.9,168.2 554.9,166.3 559.9,165.4 564.9,164.0 569.9,162.6 574.9,161.8 579.9,164.0 584.9,166.3 589.9,164.6 594.9,161.2 599.9,162.6 604.9,164.0 609.9,165.4 607.9,168.9 622.9,167.4 627.9,166.3 632.9,167.4 637.9,168.2 641.6,168.2 647.9,168.2 650.4,166.8 652.9,161.2 654.9,149.2 656.6,145.0 658.4,144.2 660.4,138.5 662.4,144.2 664.1,141.8 665.9,145.0 667.9,142.5 669.9,145.5 670.9,151.8 671.9,146.8 673.4,149.2 675.4,150.5 677.9,151.8 680.4,153.0 682.9,153.0 685.4,153.5 687.9,153.0 690.4,152.5 692.4,148.0 694.1,145.0 695.9,143.5 697.9,144.2 699.9,146.8 701.6,145.5 704.1,148.5 706.6,147.5 709.1,150.5 711.6,149.2 714.1,151.0 716.6,150.0 718.4,148.5 720.4,147.5 722.9,149.2 725.4,150.5 727.9,151.0 730.4,151.8 732.9,153.0 735.4,155.0 737.9,155.6 740.4,157.0 742.9,157.9 745.4,158.4 747.9,159.0 750.4,157.0 752.4,158.4 754.1,161.2 755.9,163.5 757.9,161.2 759.9,157.0 761.6,155.6 763.4,151.8 765.4,148.5 767.9,144.2 770.4,140.5 772.9,136.8 775.4,130.5 777.4,125.5 779.1,121.8 780.9,119.2 782.9,118.0 785.4,117.5 787.4,119.2 789.1,123.0 790.9,124.2 792.9,125.5 794.9,130.5 795.1,134.2" fill="none" stroke="#000000" stroke-width="2.6" stroke-linejoin="round" stroke-linecap="butt"/>
<polyline points="457.4,168.8 504.9,168.8 512.4,167.4 516.1,166.3 519.9,168.8 579.9,168.8 587.4,165.4 591.1,163.5 594.9,160.7 598.6,161.2 602.4,162.6 607.4,165.4 597.9,161.2 600.4,162.6 602.9,164.6 607.9,165.4 612.9,166.8 622.9,168.2 635.4,168.8 647.9,168.8 652.9,167.4 657.9,164.6 660.4,161.2 663.4,157.0 665.4,159.8 667.9,164.0 671.6,165.4 674.1,161.2 676.6,158.4 679.1,159.0 681.6,160.7 684.1,159.8 686.6,155.6 689.1,162.6 691.6,163.5 694.1,164.6 696.6,165.4 699.1,164.0 701.6,163.5 705.4,164.6 709.1,167.4 712.9,168.2 717.9,167.4 722.9,168.8 735.4,167.4 747.9,168.8 760.4,167.4 772.9,168.8 795.1,168.8" fill="none" stroke="#839b26" stroke-width="2.6" stroke-linejoin="round" stroke-linecap="butt"/>
<polyline points="457.4,304.3 554.9,304.3 604.9,304.3 639.9,304.3 647.9,304.3 650.4,302.9 652.9,298.7 655.4,294.5 657.9,291.7 660.4,289.0 662.9,288.5 665.4,287.8 667.9,286.5 670.4,289.0 672.9,288.5 675.4,287.8 677.9,289.0 680.4,286.5 682.9,287.8 685.4,286.0 687.4,289.0 689.1,287.8 690.9,290.3 692.9,293.1 694.9,295.0 696.6,296.7 698.4,295.0 700.4,293.9 702.9,294.5 705.4,293.1 707.9,292.2 710.4,291.7 712.9,290.3 715.4,289.0 717.4,289.5 719.1,290.3 721.6,291.7 724.1,291.1 726.6,291.7 729.1,293.1 731.6,295.0 734.1,296.7 736.6,297.3 739.1,295.9 740.9,293.1 742.9,293.1 745.4,295.0 747.9,297.3 749.9,299.5 751.6,298.7 753.4,297.3 755.4,295.0 757.9,293.9 760.4,291.1 762.9,289.0 765.4,286.5 767.9,285.2 770.4,284.0 772.9,282.8 775.4,280.2 777.4,276.5 779.1,270.2 780.9,266.5 782.9,264.0 784.9,261.5 786.6,262.8 788.4,261.5 790.4,260.2 791.6,259.0 793.4,262.8 795.1,264.5 795.1,266.5" fill="none" stroke="#000000" stroke-width="2.6" stroke-linejoin="round" stroke-linecap="butt"/>
<polyline points="457.4,304.3 512.4,304.3 516.1,301.5 517.9,291.7 519.4,279.0 521.1,261.5 522.9,251.5 524.9,236.5 526.9,224.0 528.6,214.0 530.4,206.5 532.4,200.2 534.4,199.0 536.1,197.8 537.4,194.0 538.6,197.8 540.4,200.2 542.4,201.5 544.4,205.2 546.1,209.0 547.9,214.0 549.4,219.0 551.1,226.5 552.9,232.8 554.9,236.5 556.1,241.5 557.4,246.5 559.4,247.8 561.1,251.5 562.9,257.8 564.9,260.2 566.9,257.0 568.6,261.5 570.4,259.0 572.4,255.2 574.4,257.8 576.1,260.2 577.9,261.5 579.9,261.0 581.9,257.8 583.6,252.8 585.4,256.5 587.4,254.0 588.6,257.8 590.4,260.2 592.4,261.5 594.4,259.0 596.1,258.5 597.9,256.5 599.9,260.2 601.9,257.8 603.6,259.0 605.4,261.5 607.4,266.5 608.6,261.5 609.9,260.2 611.9,261.0 613.6,257.8 614.9,256.0 616.1,259.0 617.4,261.5 619.4,264.0 621.1,266.5 622.4,269.0 624.4,261.5 626.1,254.0 627.9,250.2 629.9,251.5 631.9,250.2 633.6,247.8 635.4,244.0 637.4,240.2 639.4,229.0 641.1,227.8 642.9,224.0 644.1,227.8 645.9,234.0 647.9,241.5 649.9,251.5 651.6,262.8 653.4,274.0 654.9,281.5 656.6,286.5 658.4,291.1 660.4,294.5 662.9,296.7 665.4,297.9 667.9,298.7 670.4,299.5 672.9,297.9 675.4,297.3 677.9,295.9 680.4,295.0 682.9,294.5 685.4,295.0 687.9,295.9 690.4,296.7 692.9,294.5 695.4,297.3 697.9,297.9 700.4,296.7 702.9,298.7 705.4,300.7 707.9,302.3 710.4,303.5 712.9,303.5 722.9,304.3 727.9,302.3 732.9,303.5 737.9,304.3 747.9,303.5 757.9,303.5 762.9,302.3 767.9,303.5 772.9,304.3 795.1,304.3" fill="none" stroke="#1d9fd6" stroke-width="2.6" stroke-linejoin="round" stroke-linecap="butt"/>
<polyline points="457.4,304.3 497.4,304.3 501.1,302.3 504.9,304.3 524.9,304.3 527.4,303.5 529.9,304.3 539.9,302.9 544.9,302.3 554.9,302.9 564.9,304.3 567.4,301.5 572.4,302.9 577.4,301.5 582.4,303.5 589.9,304.3 594.9,302.3 599.9,304.3 604.9,303.5 617.4,303.5 629.9,303.5 637.4,304.3 640.4,301.5 642.9,294.5 645.4,285.2 647.9,274.0 650.4,261.5 652.9,249.0 655.4,236.5 657.4,227.8 659.1,224.0 660.9,221.5 662.9,217.8 664.9,214.0 666.6,210.2 668.4,214.0 670.4,219.0 672.4,221.5 674.1,220.2 675.9,221.5 677.9,225.2 680.4,230.2 682.9,235.2 685.4,240.2 687.9,244.0 689.9,246.5 691.6,251.5 693.4,252.8 695.4,251.0 697.4,252.8 699.1,247.8 700.9,251.5 702.9,256.5 704.9,259.0 706.6,262.8 708.4,266.5 710.4,267.8 712.4,269.0 714.1,267.8 715.9,270.2 717.9,271.5 719.9,272.8 721.6,272.0 723.4,272.8 725.4,274.0 727.4,275.2 729.1,274.0 730.9,271.5 732.9,270.2 734.9,272.8 736.6,274.0 738.4,272.8 740.4,275.2 742.4,276.5 744.1,279.0 745.9,280.2 747.9,282.8 749.9,284.5 751.6,285.2 753.4,284.5 755.4,282.8 757.4,285.2 759.1,286.5 760.9,282.8 762.9,281.0 764.9,285.2 766.6,284.0 768.4,282.8 770.4,281.5 772.9,282.0 775.4,282.8 777.9,281.5 780.4,281.0 782.9,280.2 785.4,279.5 787.4,281.0 789.1,282.8 790.9,282.0 792.9,281.0 794.9,282.8 795.1,280.2" fill="none" stroke="#d5157f" stroke-width="2.6" stroke-linejoin="round" stroke-linecap="butt"/>
<polyline points="457.4,304.3 639.9,304.3 647.9,304.3 650.4,302.3 652.9,300.1 655.4,297.3 657.9,294.5 660.4,293.1 662.9,294.5 665.4,296.7 667.9,294.5 670.4,290.3 672.4,285.2 674.1,286.5 675.9,291.7 677.9,297.3 680.4,298.7 682.9,299.5 685.4,300.7 687.9,301.5 692.9,302.3 697.9,303.5 710.4,304.3 722.9,304.3 732.9,304.3 737.9,303.5 742.9,302.9 747.9,302.3 752.9,303.5 757.9,304.3 762.9,302.3 767.9,300.1 770.4,298.7 772.9,297.3 775.4,296.7 777.9,296.7 780.4,295.9 782.9,295.0 785.4,294.5 787.4,296.7 789.1,300.1 791.6,301.5 795.1,301.5 795.1,302.3" fill="none" stroke="#e98a1f" stroke-width="2.6" stroke-linejoin="round" stroke-linecap="butt"/>
<polyline points="457.4,304.3 479.9,304.3 484.9,302.9 489.9,304.3 554.9,304.3 639.9,304.3 645.4,304.3 647.9,302.3 650.4,300.1 652.9,297.3 655.4,294.5 657.9,291.7 660.4,289.0 662.9,286.5 665.4,285.2 667.9,282.8 669.9,284.0 671.6,291.7 674.1,289.0 675.9,287.8 677.9,291.7 680.4,297.3 682.9,300.1 685.4,301.5 687.9,302.3 692.9,302.9 697.9,303.5 710.4,304.3 722.9,304.3 747.9,303.5 760.4,304.3 772.9,304.3 795.1,304.3" fill="none" stroke="#839b26" stroke-width="2.6" stroke-linejoin="round" stroke-linecap="butt"/>
<polyline points="457.4,441.5 512.4,441.5 514.9,439.3 516.9,433.1 518.6,422.5 520.4,407.5 522.4,397.5 524.4,385.0 526.1,372.5 527.9,362.5 529.9,353.8 531.9,347.5 533.6,345.0 535.4,343.0 536.9,347.5 538.6,351.2 540.4,350.0 542.4,351.2 544.4,356.2 546.1,360.0 547.9,362.5 549.9,365.0 551.9,368.8 553.6,375.0 554.9,382.5 556.1,388.8 557.9,392.5 559.9,396.2 561.9,397.5 563.6,395.0 565.4,393.8 567.4,395.0 569.4,392.5 571.1,390.5 572.9,392.5 574.9,395.0 576.9,396.2 578.6,400.0 579.9,403.8 581.9,400.0 583.6,402.5 585.4,403.8 587.4,405.5 589.9,405.5 591.9,401.2 593.6,398.8 595.4,397.5 597.4,398.8 599.4,397.5 601.1,395.0 602.9,400.0 604.4,402.5 606.1,406.2 607.4,408.8 608.6,405.0 610.4,402.5 612.4,400.0 614.9,397.5 616.9,396.2 618.6,395.0 620.4,393.8 622.4,392.5 624.4,391.2 626.1,390.0 627.9,388.0 629.9,385.0 631.9,382.5 633.6,379.5 634.9,376.2 636.1,378.8 637.9,377.5 639.9,377.0 641.9,379.5 643.6,381.2 644.1,382.5 645.9,385.0 647.9,390.0 649.9,395.0 651.6,401.2 653.4,407.5 654.9,415.0 656.6,421.2 658.4,427.5 660.4,431.7 662.9,432.6 665.4,431.7 667.9,433.1 670.4,428.9 672.9,427.5 675.4,427.5 677.9,429.8 680.4,433.1 682.9,437.3 685.4,441.5 687.9,441.6 690.4,438.7 692.9,437.3 695.4,436.5 697.9,435.9 700.4,433.1 702.9,437.3 705.4,438.7 707.9,439.3 712.9,440.1 722.9,440.7 735.4,439.3 742.9,440.1 752.9,440.7 762.9,440.1 772.9,440.7 782.9,439.3 787.9,440.1 795.1,440.1" fill="none" stroke="#1d9fd6" stroke-width="2.6" stroke-linejoin="round" stroke-linecap="butt"/>
<polyline points="457.4,441.0 472.4,441.0 476.1,439.3 479.9,441.0 529.9,441.0 532.4,439.3 537.4,441.0 559.9,440.1 564.9,438.7 569.9,440.1 579.9,439.3 589.9,439.3 604.9,439.3 627.4,439.3 634.9,440.1 637.9,440.1 640.4,434.5 642.9,425.0 645.4,416.2 647.9,407.5 650.4,400.0 652.9,392.5 655.4,386.2 657.9,380.0 660.4,375.0 662.4,367.5 664.1,357.5 665.9,360.0 667.9,361.2 670.4,365.0 672.9,368.8 675.4,373.8 677.4,378.8 679.1,383.8 681.6,385.0 684.1,387.0 685.9,388.8 687.9,393.8 689.9,396.2 691.6,397.5 694.1,400.0 695.9,396.2 697.9,398.8 699.9,402.5 701.6,406.2 703.4,408.8 705.4,410.5 707.4,407.5 709.1,406.2 710.9,408.8 712.9,403.8 714.9,405.0 716.6,408.8 718.4,406.2 720.4,404.5 722.4,407.0 724.1,408.8 725.9,410.0 727.9,411.2 729.9,413.8 731.6,413.8 734.1,415.5 736.6,415.0 739.1,413.8 740.9,414.5 742.9,412.5 745.4,416.2 747.9,417.0 750.4,418.8 752.9,420.0 755.4,419.5 757.9,420.5 760.4,420.0 762.4,418.8 764.1,421.2 765.9,423.8 767.9,428.9 769.9,422.5 772.4,422.0 774.9,423.8 777.4,422.5 779.1,421.2 780.9,418.8 782.4,415.0 784.1,416.2 785.9,413.8 787.4,408.8 789.1,403.8 790.9,405.0 792.9,408.8 794.9,410.5 795.1,408.8" fill="none" stroke="#d5157f" stroke-width="2.6" stroke-linejoin="round" stroke-linecap="butt"/>
<polyline points="457.4,441.6 639.9,441.6 642.9,441.5 647.9,441.0 650.4,437.3 652.9,433.1 655.4,430.3 657.9,428.9 660.4,427.5 662.9,427.0 665.4,426.2 667.9,425.5 670.4,427.5 672.9,426.2 675.4,425.5 677.9,427.0 680.4,428.9 682.9,431.7 685.4,433.1 687.9,433.7 690.4,435.9 692.9,438.2 695.4,439.3 697.9,440.1 702.9,439.3 707.9,440.1 712.9,439.3 717.9,438.2 722.9,437.3 725.4,438.7 727.9,435.9 730.4,438.7 732.9,440.1 737.9,440.1 747.9,440.7 757.9,440.1 762.9,439.3 767.9,435.9 770.4,433.1 772.9,432.6 775.4,433.7 777.9,434.5 780.4,433.1 782.9,429.8 784.9,433.1 786.6,436.5 789.1,438.7 791.6,439.3 795.1,438.7 795.1,439.3" fill="none" stroke="#e98a1f" stroke-width="2.6" stroke-linejoin="round" stroke-linecap="butt"/>
<polyline points="457.4,441.6 639.9,441.6 642.9,441.6 647.9,441.5 650.4,439.3 652.9,436.5 655.4,435.4 657.9,434.5 660.4,433.7 662.9,434.5 665.4,433.1 667.9,434.5 670.4,433.7 672.9,433.1 675.4,434.5 677.9,435.4 680.4,435.9 682.9,436.5 685.4,437.3 687.9,438.2 692.9,438.7 697.9,439.3 710.4,440.1 722.9,440.7 747.9,440.7 772.9,441.0 795.1,441.0" fill="none" stroke="#839b26" stroke-width="2.6" stroke-linejoin="round" stroke-linecap="butt"/>
<polyline points="457.4,441.6 639.9,441.6 642.9,441.6 646.6,441.6 649.1,438.7 651.6,431.7 654.1,426.2 656.6,425.0 659.1,423.8 661.6,424.5 664.1,423.0 666.6,423.8 668.4,425.0 670.4,426.2 672.4,422.5 674.1,421.2 675.9,420.0 677.4,418.8 679.1,421.2 680.9,425.0 682.9,427.0 684.9,428.9 686.6,428.9 688.4,427.5 690.4,430.3 692.4,428.9 694.1,427.0 695.9,428.1 697.9,426.2 699.9,427.5 701.6,427.0 703.4,425.5 705.4,425.0 706.6,427.5 708.4,433.1 710.4,434.5 712.4,433.7 714.1,430.3 715.9,427.5 717.9,428.9 719.9,427.5 721.6,426.2 723.4,427.5 725.4,427.0 727.4,427.5 729.1,426.2 730.9,425.0 732.9,423.8 734.1,422.0 735.4,425.0 737.4,427.5 739.1,426.2 740.9,426.2 742.9,428.9 745.4,431.7 747.9,433.7 749.9,432.6 751.6,428.9 753.4,427.5 755.4,427.0 757.9,428.9 760.4,427.5 762.4,425.0 764.9,420.0 767.4,416.2 769.9,414.5 772.4,413.8 774.9,411.2 776.6,408.8 778.4,405.0 780.4,407.5 782.4,403.8 784.1,400.0 785.9,397.5 787.4,398.8 789.1,401.2 790.9,402.5 792.9,405.0 794.9,408.8 795.1,407.5" fill="none" stroke="#000000" stroke-width="2.6" stroke-linejoin="round" stroke-linecap="butt"/>
<polyline points="457.4,574.5 492.4,574.0 494.9,571.7 497.4,573.1 502.4,574.0 512.4,574.5 514.9,566.1 516.9,550.5 518.6,535.5 520.4,520.5 522.4,505.5 524.4,501.8 526.1,495.5 527.9,485.5 529.9,475.5 531.9,473.5 533.6,473.5 535.4,476.8 536.9,481.8 538.6,485.5 540.4,486.8 541.9,493.0 543.6,491.8 545.4,495.5 547.4,499.2 549.4,501.8 551.1,500.5 552.9,504.2 554.9,509.2 556.9,514.2 558.6,520.5 559.9,515.5 561.1,511.8 562.9,513.0 564.9,509.2 566.9,508.0 568.6,506.8 570.4,505.5 571.1,500.5 572.4,508.0 574.4,511.8 576.1,515.5 577.9,520.5 579.9,523.0 581.9,519.2 583.6,524.2 585.4,526.8 587.4,531.8 589.4,534.2 591.1,533.0 592.9,530.0 594.4,533.0 596.1,535.5 597.9,538.0 599.9,541.0 601.1,541.8 602.4,539.2 604.4,535.0 606.1,536.8 607.9,534.2 609.9,533.0 611.9,530.5 613.6,528.0 615.4,531.8 617.4,525.5 619.4,521.0 621.1,519.2 622.9,518.0 624.4,515.5 626.1,518.0 627.9,514.2 629.9,517.5 631.9,518.0 633.6,516.8 635.4,513.0 637.4,508.0 639.4,505.5 641.1,503.5 642.4,508.0 644.1,515.5 645.9,523.0 647.9,530.5 649.9,538.0 651.6,544.2 653.4,550.5 654.9,558.0 656.6,563.3 659.1,566.1 661.6,567.5 664.1,568.4 666.6,568.9 669.1,569.5 672.9,570.3 677.9,571.2 682.9,571.7 692.9,572.3 702.9,572.3 712.9,573.1 722.9,572.3 727.9,572.3 732.9,573.1 742.9,573.7 752.9,572.3 762.9,573.1 772.9,573.7 787.9,572.3 795.1,573.1" fill="none" stroke="#1d9fd6" stroke-width="2.6" stroke-linejoin="round" stroke-linecap="butt"/>
<polyline points="457.4,574.0 529.9,574.0 539.9,573.1 544.9,572.3 554.9,573.1 564.9,573.1 574.9,572.3 582.4,567.5 584.9,570.3 589.9,572.3 594.9,570.3 599.9,571.7 604.9,570.3 609.9,572.3 619.9,574.0 624.9,572.3 627.4,570.3 629.9,572.3 633.6,568.9 636.1,569.5 638.6,567.5 641.1,563.3 642.9,555.5 644.4,545.5 646.1,536.8 647.9,533.0 649.9,531.8 644.1,543.0 646.6,534.2 649.1,528.0 651.6,523.0 654.1,513.0 656.6,503.0 658.4,499.2 660.4,500.5 662.4,500.0 664.1,505.5 665.4,503.0 666.6,496.8 667.9,490.5 669.1,491.8 670.4,486.8 671.6,494.2 672.9,510.5 674.1,509.2 675.4,511.8 677.4,513.0 679.1,520.5 680.9,518.0 682.9,520.5 684.9,525.5 686.6,529.2 688.4,526.8 690.4,525.5 692.4,526.8 694.1,524.2 695.9,528.0 697.9,526.8 699.9,523.0 701.6,529.2 703.4,533.0 705.4,536.8 707.9,540.5 710.4,541.8 712.9,542.5 715.4,540.5 717.4,544.2 719.1,548.0 720.9,551.8 722.9,550.0 724.9,549.2 726.6,546.8 728.4,547.5 730.4,545.5 732.9,540.5 734.9,538.0 736.6,535.5 738.4,534.2 740.4,536.8 742.4,540.5 744.1,544.2 745.9,548.0 747.9,549.2 749.9,553.0 751.6,555.5 753.4,558.0 755.4,555.5 757.4,551.8 759.1,554.2 760.9,556.8 762.9,553.0 764.9,556.8 766.6,558.0 768.4,555.5 770.4,556.8 772.4,558.5 774.9,558.0 777.4,558.5 779.1,560.0 780.9,559.2 782.9,556.8 784.9,554.2 786.6,553.0 788.4,549.2 790.4,545.5 792.4,543.0 794.1,541.8 795.1,546.8 795.1,549.2" fill="none" stroke="#d5157f" stroke-width="2.6" stroke-linejoin="round" stroke-linecap="butt"/>
<polyline points="457.4,574.5 477.4,574.5 479.9,573.4 484.9,574.0 527.4,573.1 529.9,572.3 532.4,574.5 547.4,574.0 554.9,574.5 579.9,574.5 639.9,574.5 640.4,574.5 642.9,573.1 645.4,571.7 647.9,568.9 650.4,563.3 652.9,560.0 655.4,558.0 657.4,559.2 659.1,563.3 660.9,566.1 662.9,564.7 664.9,563.9 666.6,563.3 668.4,563.3 670.4,563.3 672.4,559.2 674.1,555.5 675.9,553.0 677.9,551.8 680.4,550.5 682.9,551.8 685.4,550.5 687.9,550.0 690.4,549.2 692.4,548.5 694.1,551.8 695.9,554.2 697.9,555.5 700.4,558.0 702.9,560.5 704.9,563.3 706.6,566.1 708.4,567.5 710.4,568.4 712.4,566.7 714.1,565.6 715.9,563.3 717.9,560.5 719.9,559.2 721.6,560.0 724.1,561.9 725.9,560.5 727.9,561.9 729.9,563.3 731.6,563.9 733.4,565.6 735.4,566.1 737.9,566.7 740.4,566.7 742.9,568.4 745.4,568.9 747.9,569.5 750.4,567.5 752.4,566.1 754.1,566.7 755.9,566.1 757.9,565.6 759.9,563.3 761.6,562.8 763.4,560.0 765.4,557.5 767.9,554.2 770.4,551.8 772.4,548.0 774.1,543.0 775.9,538.0 777.9,531.8 779.9,528.0 782.4,527.5 784.1,526.0 785.9,523.0 787.9,522.5 789.9,524.2 791.6,521.8 793.4,522.5 795.1,520.5 795.1,521.0" fill="none" stroke="#000000" stroke-width="2.6" stroke-linejoin="round" stroke-linecap="butt"/>
<polyline points="457.4,574.7 639.9,574.7 637.9,574.5 641.6,572.3 644.1,574.5 647.9,572.3 650.4,568.9 652.9,566.1 655.4,563.9 657.9,560.5 659.9,561.9 661.6,563.3 663.4,559.2 664.9,555.5 666.6,560.5 668.4,563.3 670.4,566.1 672.4,565.6 674.1,566.1 675.9,563.3 677.9,564.7 680.4,566.1 682.9,563.9 684.9,563.3 686.6,566.7 689.1,568.4 692.9,570.3 697.9,571.7 702.9,572.3 707.9,571.2 712.9,571.7 717.9,571.2 722.9,572.3 727.9,571.7 732.9,572.3 737.9,572.3 742.9,571.2 747.9,572.3 752.9,571.7 757.9,571.2 762.9,571.7 767.9,571.2 772.9,570.3 777.9,571.2 782.9,570.3 787.9,569.5 791.6,570.3 795.1,572.3 795.1,573.1" fill="none" stroke="#e98a1f" stroke-width="2.6" stroke-linejoin="round" stroke-linecap="butt"/>
<polyline points="457.4,574.5 462.4,573.4 467.4,574.5 554.9,574.5 579.9,571.7 584.9,572.3 594.9,574.5 639.9,571.2 644.9,573.1 637.9,574.0 640.4,570.3 642.4,572.3 644.9,574.0 647.9,572.3 651.6,570.3 654.1,567.5 656.6,566.1 659.1,563.9 661.6,566.1 664.1,564.7 666.6,561.9 669.1,560.5 670.9,558.0 672.4,563.3 674.1,566.1 677.9,568.4 682.9,569.5 687.9,570.3 692.9,571.2 697.9,572.3 702.9,571.7 707.9,573.1 712.9,572.3 717.9,573.1 722.9,572.3 727.9,573.1 732.9,572.3 737.9,571.7 742.9,573.1 752.9,572.3 762.9,573.1 772.9,572.3 782.9,573.1 795.1,573.1" fill="none" stroke="#839b26" stroke-width="2.6" stroke-linejoin="round" stroke-linecap="butt"/>
<polyline points="457.4,705.5 512.4,705.5 514.9,699.7 516.9,687.5 518.6,675.0 520.4,662.5 522.4,652.5 524.4,645.0 526.1,637.5 527.9,631.2 529.9,627.5 531.9,622.5 533.6,617.5 535.4,613.0 537.4,616.2 539.4,618.8 541.1,621.2 542.9,616.2 544.4,615.0 546.1,622.5 547.9,632.5 549.9,633.8 551.9,632.0 553.6,636.2 555.4,641.2 556.9,647.5 558.6,645.5 560.4,645.0 562.9,644.5 564.9,641.2 566.1,646.2 567.9,653.8 569.9,648.8 571.9,648.8 573.6,651.2 575.4,653.0 577.4,656.2 579.4,658.8 581.1,657.0 582.9,655.0 584.9,657.5 586.9,654.5 588.6,658.8 590.4,661.2 592.4,664.5 594.4,662.5 596.1,660.0 597.9,662.5 599.9,657.0 601.9,655.0 603.6,656.2 605.4,653.0 607.4,654.5 609.4,651.2 611.1,653.8 612.9,650.0 614.9,655.5 616.9,661.2 618.6,662.5 620.4,663.0 622.4,662.0 624.4,663.0 626.1,661.2 627.9,662.0 629.9,660.0 631.9,663.0 633.6,660.0 635.4,662.5 637.4,660.0 639.4,661.2 641.1,658.8 642.9,655.0 644.1,657.5 645.9,661.2 647.9,667.5 649.9,672.5 651.6,676.2 653.4,680.0 655.4,683.8 657.4,687.5 659.1,691.2 660.9,694.0 662.9,697.7 665.4,700.5 667.9,701.6 670.4,703.3 672.9,703.9 675.4,702.5 677.9,701.1 680.4,699.7 682.9,698.3 685.4,697.7 687.9,698.3 692.9,699.7 697.9,701.1 702.9,702.5 707.9,703.3 712.9,702.5 717.9,701.1 720.4,702.5 722.9,704.4 727.9,704.4 732.9,705.3 742.9,705.3 752.9,704.4 762.9,705.3 772.9,704.4 782.9,705.3 795.1,705.3" fill="none" stroke="#1d9fd6" stroke-width="2.6" stroke-linejoin="round" stroke-linecap="butt"/>
<polyline points="457.4,705.5 467.4,703.9 469.9,702.7 472.4,704.4 479.9,705.5 529.9,705.5 539.9,705.6 552.4,705.5 559.9,702.5 564.9,701.6 567.4,704.4 569.9,703.9 574.9,704.4 579.9,705.5 587.4,703.9 592.4,703.3 594.9,702.5 598.6,698.8 601.1,703.3 604.9,704.4 609.9,703.3 614.9,703.9 619.9,704.4 629.9,704.4 637.4,705.5 639.9,704.4 639.1,705.5 641.6,699.7 644.1,682.5 646.6,667.5 649.1,655.0 651.6,643.8 654.1,640.0 656.6,636.2 657.9,631.2 659.9,633.8 661.6,637.5 663.4,636.2 665.4,640.0 667.4,637.5 669.1,633.8 670.9,631.2 672.9,633.0 674.9,636.2 676.6,640.0 678.4,646.2 680.4,647.5 682.4,648.8 684.1,650.0 685.9,653.8 687.9,655.0 689.9,658.8 691.6,662.5 693.4,661.2 695.4,660.0 697.4,663.8 699.1,665.0 700.9,666.2 702.9,666.2 704.9,668.8 706.6,672.5 708.4,673.8 710.4,674.5 712.4,675.5 714.1,675.0 715.9,677.0 717.9,677.5 720.4,678.0 722.9,678.8 725.4,679.5 727.9,680.0 730.4,680.5 732.9,681.2 735.4,682.0 737.9,682.5 740.4,683.0 742.9,685.0 745.4,686.2 747.9,687.5 749.9,688.8 751.6,690.0 752.9,691.2 754.9,688.8 757.4,687.5 759.9,688.8 761.6,687.5 764.1,683.8 766.6,682.5 769.1,680.0 771.6,675.0 774.1,668.8 775.9,663.8 777.9,665.0 780.4,667.5 782.4,672.5 784.1,677.5 785.9,681.2 787.9,680.0 789.9,676.2 791.6,673.8 794.1,672.5 795.1,672.5" fill="none" stroke="#d5157f" stroke-width="2.6" stroke-linejoin="round" stroke-linecap="butt"/>
<polyline points="457.4,705.6 524.9,705.6 527.4,704.4 529.9,705.6 549.9,705.3 552.4,703.9 554.9,705.3 609.9,705.6 639.9,705.6 640.4,705.5 641.6,705.3 644.1,701.1 646.6,698.3 649.1,694.0 650.9,695.4 652.9,690.0 654.9,687.5 656.6,682.5 658.4,678.8 660.4,681.2 662.4,677.5 664.1,675.0 665.9,676.2 667.9,680.0 669.9,683.8 671.6,688.8 673.4,690.0 675.4,692.1 677.4,692.6 679.1,691.2 681.6,690.0 684.1,690.5 686.6,690.0 688.4,691.2 690.4,690.5 692.4,692.1 694.1,691.2 695.9,692.6 697.9,692.1 699.9,690.5 702.4,692.6 704.1,692.1 705.9,691.2 707.9,690.0 709.9,690.5 711.6,692.1 713.4,692.6 715.4,694.0 717.4,692.6 719.1,694.0 720.9,696.0 722.9,697.7 724.9,699.7 726.6,701.6 728.4,703.3 730.4,701.6 732.4,699.7 734.1,698.3 735.9,696.9 737.9,697.7 739.9,695.4 741.6,694.9 743.4,696.0 745.4,698.3 747.4,696.9 749.1,694.9 750.9,692.6 752.9,692.1 754.9,688.8 756.6,690.0 758.4,694.0 760.4,691.2 762.4,688.8 764.1,686.2 765.9,685.0 767.9,683.8 769.9,682.5 771.6,682.0 773.4,680.5 775.4,677.5 777.4,681.2 779.1,677.5 780.9,683.8 782.9,677.5 784.9,673.8 786.6,670.0 788.4,667.0 790.4,668.8 792.4,669.5 794.4,670.0 795.1,671.2" fill="none" stroke="#000000" stroke-width="2.6" stroke-linejoin="round" stroke-linecap="butt"/>
<polyline points="457.4,705.6 639.9,705.6 640.4,705.5 647.9,704.4 652.9,702.5 657.9,699.7 660.4,697.7 662.9,698.3 665.4,696.9 667.9,697.7 670.4,698.3 672.9,700.5 675.4,702.5 677.9,698.3 680.4,696.9 682.9,695.4 685.4,698.3 687.9,700.5 690.4,702.5 692.9,704.4 697.9,705.3 707.9,704.4 722.9,705.3 737.9,704.4 747.9,705.3 757.9,704.4 767.9,704.4 772.9,703.3 777.9,702.5 780.4,698.3 781.6,696.9 782.9,698.3 785.4,700.5 787.9,701.6 790.4,703.3 792.9,702.5 795.1,702.5" fill="none" stroke="#e98a1f" stroke-width="2.6" stroke-linejoin="round" stroke-linecap="butt"/>
<polyline points="457.4,705.5 474.9,704.4 479.9,705.5 497.4,704.4 502.4,705.5 529.9,705.5 534.9,704.4 539.9,705.5 639.9,705.5 637.9,705.5 647.9,703.3 652.9,701.1 657.9,698.3 660.4,696.0 662.9,696.9 665.4,694.9 667.9,696.9 670.4,698.3 672.9,699.7 675.4,697.7 677.9,696.9 680.4,695.4 682.9,694.0 684.9,696.0 686.6,698.3 689.1,700.5 692.9,701.6 697.9,703.3 702.9,704.4 707.9,704.4 712.9,705.3 722.9,705.3 732.9,704.4 737.9,705.3 747.9,704.4 757.9,704.4 767.9,705.3 777.9,704.4 787.9,705.3 795.1,705.3" fill="none" stroke="#839b26" stroke-width="2.6" stroke-linejoin="round" stroke-linecap="butt"/>
</svg></body></html>
